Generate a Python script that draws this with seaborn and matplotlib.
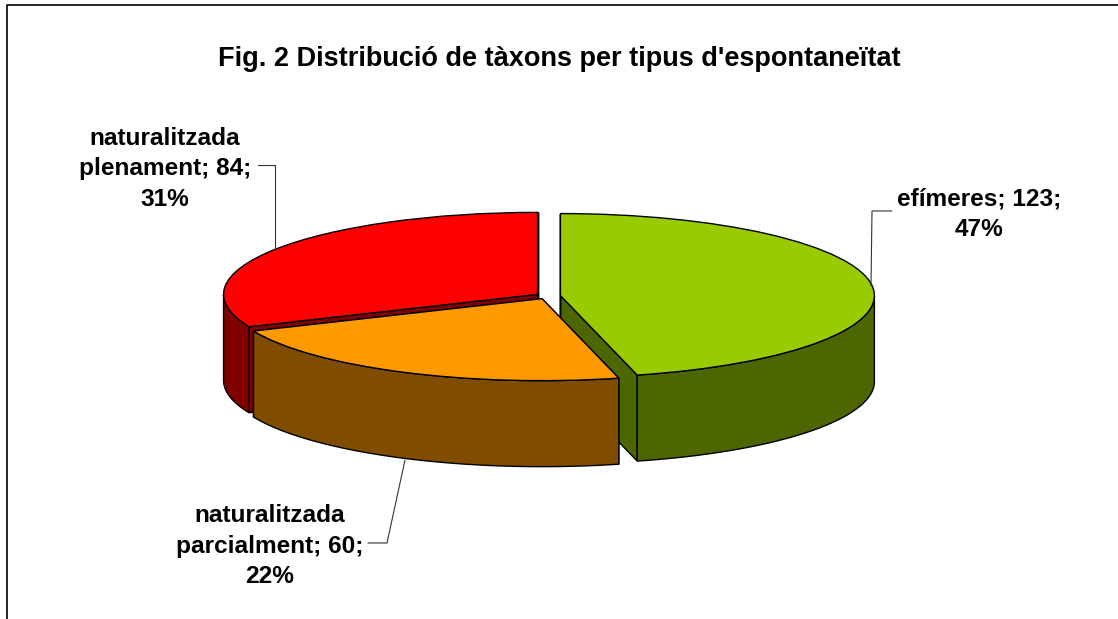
import numpy as np
import matplotlib
matplotlib.use("Agg")
import matplotlib.pyplot as plt
from matplotlib.patches import Polygon
import seaborn as sns

title = "Fig. 2 Distribució de tàxons per tipus d'espontaneïtat"
categories = ["efímeres", "naturalitzada parcialment", "naturalitzada plenament"]
values = [123, 60, 84]
label_texts = ["efímeres; 123;\n47%", "naturalitzada\nparcialment; 60;\n22%", "naturalitzada\nplenament; 84;\n31%"]
top_colors = ["#99CC00", "#FF9900", "#FF0000"]
side_colors = ["#4D6600", "#804D00", "#800000"]
explode = [0.043, 0.036, 0.036]

W, H = 1118, 619
CX, CY, RX, RY, DEPTH = 547.0, 296.0, 314.0, 82.0, 86.0

sns.set_theme(style="white")
plt.rcParams["font.family"] = ["Liberation Sans", "DejaVu Sans"]

fig = plt.figure(figsize=(W / 100, H / 100), dpi=100, facecolor="white")
ax = fig.add_axes([0, 0, 1, 1])
wedges, _ = ax.pie(values, colors=top_colors, explode=explode, startangle=90, counterclock=False,
                   radius=1.0, center=(0, 0), wedgeprops=dict(edgecolor="black", linewidth=1.0))
ax.set_aspect("auto")
ax.set_xlim(-CX / RX, (W - CX) / RX)
ax.set_ylim((CY - H) / RY, CY / RY)
ax.axis("off")

d = DEPTH / RY
side_z = [1, 3, 1]
for wedge, col, z in zip(wedges, side_colors, side_z):
    cx, cy = wedge.center
    t = np.radians(np.linspace(wedge.theta1, wedge.theta2, 300))
    x, y = cx + np.cos(t), cy + np.sin(t)
    # radial cut faces
    for ex, ey in [(x[0], y[0]), (x[-1], y[-1])]:
        ax.add_patch(Polygon([(cx, cy), (ex, ey), (ex, ey - d), (cx, cy - d)], closed=True,
                             facecolor=col, edgecolor="black", linewidth=1.0, zorder=z))
    # outer wall: only the front half
    front = np.sin(t) <= 0
    if front.any():
        fx, fy = x[front], y[front]
        pts = np.r_[np.c_[fx, fy], np.c_[fx[::-1], fy[::-1] - d]]
        ax.add_patch(Polygon(pts, closed=True, facecolor=col, edgecolor="black", linewidth=1.0, zorder=z + 0.1))
    wedge.set_zorder(z + 0.5)

def fx(px):
    return px / W
def fy(py):
    return 1 - py / H

fig.text(fx(559), fy(59), title, ha="center", va="center", fontsize=19.5, fontweight="bold", color="black")

label_xy = [(979, 214), (270, 546), (165, 169)]
for txt, (px, py) in zip(label_texts, label_xy):
    fig.text(fx(px), fy(py), txt, ha="center", va="center", fontsize=17.6, fontweight="bold",
             color="black", linespacing=1.4, zorder=10)

leaders = [[(892, 211), (872, 211), (871, 286)],
           [(368, 543), (387, 543), (405, 460)],
           [(258, 165), (275, 165), (275, 249)]]
for line in leaders:
    xs, ys = zip(*line)
    ax.plot((np.array(xs) - CX) / RX, (CY - np.array(ys)) / RY, color="#333333", lw=0.8, zorder=8)

# chart-area border (left and top remain inside the picture)
fig.add_artist(plt.Line2D([fx(6.5), fx(6.5), 1], [0, fy(5), fy(5)], color="black", lw=1.2))

fig.savefig("out.png", dpi=100, facecolor="white")
